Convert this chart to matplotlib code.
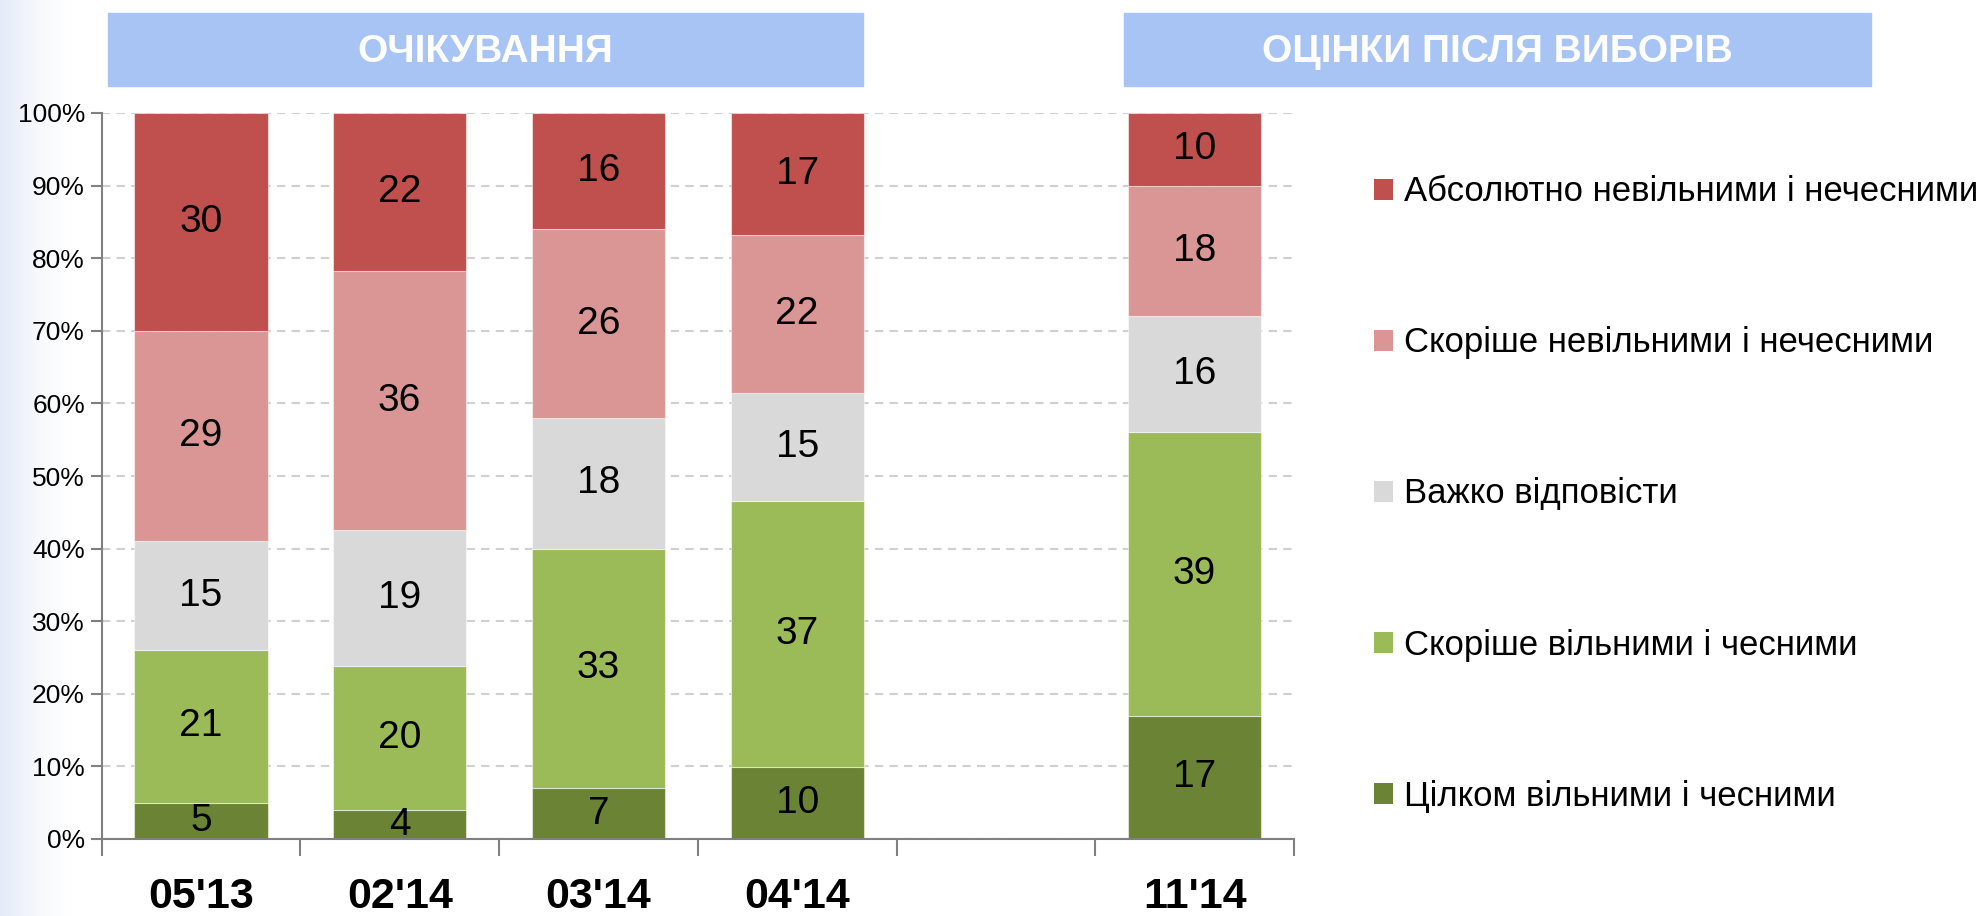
import numpy as np
import matplotlib
matplotlib.use("Agg")
import matplotlib.pyplot as plt
from matplotlib.patches import Rectangle, Patch
from matplotlib.ticker import PercentFormatter, FixedLocator, NullFormatter

# data (bottom to top of each bar)
categories = ["05'13", "02'14", "03'14", "04'14", "11'14"]
slots = [0, 1, 2, 3, 5]
tsilkom_vilnymy = [5, 4, 7, 10, 17]
skorishe_vilnymy = [21, 20, 33, 37, 39]
vazhko = [15, 19, 18, 15, 16]
skorishe_nevilnymy = [29, 36, 26, 22, 18]
absolutno_nevilnymy = [30, 22, 16, 17, 10]

series_names = ["Цілком вільними і чесними", "Скоріше вільними і чесними",
                "Важко відповісти", "Скоріше невільними і нечесними",
                "Абсолютно невільними і нечесними"]
colors = ["#6a8335", "#9bbb59", "#d9d9d9", "#d99694", "#c0504d"]
headers = ["ОЧІКУВАННЯ", "ОЦІНКИ ПІСЛЯ ВИБОРІВ"]

plt.rcParams["font.family"] = ["Liberation Sans", "DejaVu Sans"]

W, H = 1985, 916
fig = plt.figure(figsize=(W / 100, H / 100), dpi=100)

# faint bluish strip at the left edge
bg = fig.add_axes([0, 0, 75 / W, 1], zorder=-5)
grad = np.linspace(1, 0, 64)
strip = np.ones((1, 64, 4))
strip[..., :3] = [0.82, 0.87, 0.96]
strip[..., 3] = grad ** 1.5 * 0.6
bg.imshow(strip, aspect="auto", extent=[0, 1, 0, 1])
bg.axis("off")

ax = fig.add_axes([101.6 / W, 1 - 839 / H, (1294 - 101.6) / W, 726 / H])

data = np.array([tsilkom_vilnymy, skorishe_vilnymy, vazhko,
                 skorishe_nevilnymy, absolutno_nevilnymy], dtype=float)
shares = data / data.sum(axis=0)
bottom = np.zeros(len(slots))
for i in range(len(data)):
    ax.bar(slots, shares[i], width=0.67, bottom=bottom, color=colors[i],
           edgecolor=(1, 1, 1, 0.5), linewidth=0.8, zorder=2)
    for x, b, s, v in zip(slots, bottom, shares[i], data[i]):
        ax.text(x, b + s / 2, str(int(v)), ha="center", va="center",
                fontsize=28, color="black", zorder=3)
    bottom = bottom + shares[i]

ax.set_xlim(-0.5, 5.5)
ax.set_ylim(0, 1)
ax.yaxis.set_major_locator(FixedLocator(np.arange(0, 1.01, 0.1)))
ax.yaxis.set_major_formatter(PercentFormatter(1.0, decimals=0))
ax.grid(axis="y", color="#d0d0d0", linestyle=(0, (4, 3)), linewidth=1.5)
ax.set_axisbelow(True)

ax.xaxis.set_major_locator(FixedLocator(np.arange(-0.5, 5.6, 1.0)))
ax.xaxis.set_major_formatter(NullFormatter())
ax.xaxis.set_minor_locator(FixedLocator(slots))
ax.set_xticklabels(categories, minor=True)
ax.tick_params(axis="x", which="major", length=12, width=1.5, color="#808080")
ax.tick_params(axis="x", which="minor", length=0, pad=27)
ax.tick_params(axis="y", length=8, width=1.5, color="#808080", pad=4,
               labelsize=19)
for lab in ax.get_xticklabels(minor=True):
    lab.set_fontsize(31)
    lab.set_fontweight("bold")

for side in ["top", "right"]:
    ax.spines[side].set_visible(False)
for side in ["left", "bottom"]:
    ax.spines[side].set_color("#808080")
    ax.spines[side].set_linewidth(1.5)

# header boxes
boxes = [(108, 863), (1124, 1871)]
for (x0, x1), txt in zip(boxes, headers):
    fig.add_artist(Rectangle((x0 / W, 1 - 86 / H), (x1 - x0) / W, 73 / H,
                             transform=fig.transFigure, color="#a7c4f4"))
    fig.text((x0 + x1) / 2 / W, 1 - 52 / H, txt, ha="center", va="center",
             color="white", fontsize=28, fontweight="bold")

handles = [Patch(facecolor=c, edgecolor="none") for c in colors]
fig.legend(handles[::-1], series_names[::-1], loc="center left",
           bbox_to_anchor=(1374 / W, 1 - 494 / H), frameon=False,
           prop={"size": 25}, borderpad=0, borderaxespad=0,
           handlelength=0.55, handleheight=0.55, handletextpad=0.3,
           labelspacing=3.4)

fig.savefig("out.png", dpi=100)
